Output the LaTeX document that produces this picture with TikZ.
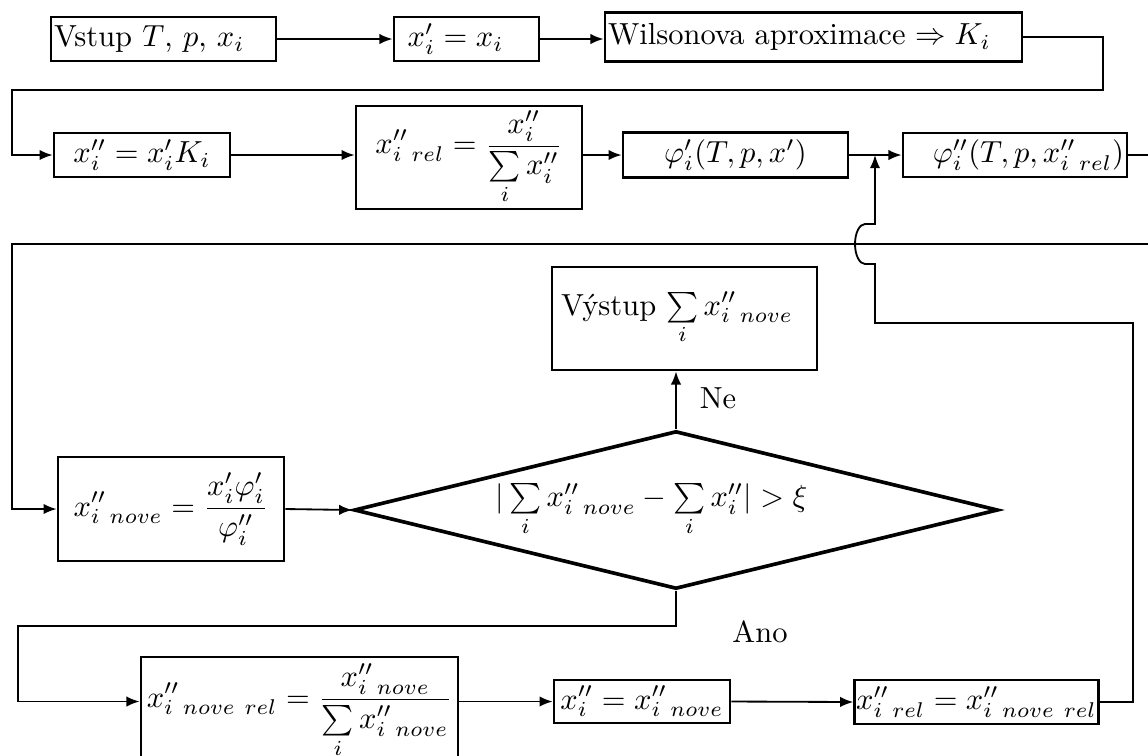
\documentclass[tikz,border=0pt]{standalone}
\usepackage{amsmath}
\usepackage{fontspec}
\usetikzlibrary{shapes.geometric,arrows.meta}
\begin{document}
\begin{tikzpicture}[x=0.328pt,y=-0.328pt,
  box/.style={draw,line width=0.9pt,inner sep=1pt},
  conn/.style={line width=0.6pt},
  arr/.style={conn,-{Latex[length=4.3pt,width=3.4pt]}},
  lbl/.style={inner sep=0pt}]
\useasboundingbox (0,0) rectangle (1148,755);
\clip (0,0) rectangle (1148,755);
% row 1
\node[box,minimum height=14.4pt,text width=71.8pt,align=left] (b1) at (163.5,39) {Vstup $T$, $p$, $x_i$};
\node[box,minimum height=14.4pt,text width=45.6pt,align=left] (b2) at (466.5,39) {\hspace*{3.5pt}$x'_i = x_i$};
\node[box,minimum height=16pt,text width=134.8pt,align=left] (b3) at (813.5,37) {Wilsonova aproximace $\Rightarrow K_i$};
% row 2
\node[box,minimum width=57.7pt,minimum height=14.4pt] (b4) at (142,155) {$x''_i = x'_iK_i$};
\node[box,minimum width=74.1pt,minimum height=33.8pt] (b5) at (469,157.5) {$\displaystyle x''_{i\ rel} = \frac{x''_i}{\sum\limits_i x''_i}$};
\node[box,minimum width=73.8pt,minimum height=14.8pt] (b6) at (735.5,155) {$\varphi'_i(T,p,x')$};
\node[box,minimum height=14.4pt,text width=71.5pt,align=right] (b7) at (1015,155) {$\varphi''_i(T,p,x''_{i\ rel})$};
\coordinate (j) at (875,155);
% row 3
\node[box,minimum height=33.8pt,text width=84.9pt,align=left] (b8) at (684.5,318.5) {\hspace*{2pt}Výstup $\sum\limits_i x''_{i\ nove}$};
\node[box,minimum width=74.1pt,minimum height=34.1pt] (b9) at (171,509) {$\displaystyle x''_{i\ nove} = \frac{x'_i\varphi'_i}{\varphi''_i}$};
\node[diamond,draw,line width=1.2pt,aspect=4,inner sep=0pt,minimum width=211.2pt,minimum height=51.8pt] (d) at (676,510) {$|\sum\limits_i x''_{i\ nove} - \sum\limits_i x''_i| > \xi$\hspace*{16pt}};
\node[lbl] (ne) at (718,398) {Ne};
\node[lbl] (ano) at (760,632) {Ano};
% row 4
\node[box,minimum width=104pt,minimum height=35.4pt] (b11) at (299.5,711) {$\displaystyle x''_{i\ nove\ rel} = \frac{x''_{i\ nove}}{\sum\limits_i x''_{i\ nove}}$};
\node[box,minimum width=57.7pt,minimum height=14.1pt] (b12) at (642,701.5) {$x''_i = x''_{i\ nove}$};
\node[box,minimum width=79.7pt,minimum height=14.4pt,inner sep=0.5pt] (b13) at (976.5,702) {$x''_{i\ rel} = x''_{i\ nove\ rel}$};
% connectors
\draw[arr] (b1.east) -- (b2.west);
\draw[arr] (b2.east) -- (b2.east -| b3.west);
\draw[arr] (b3.east) -- (1103,37) -- (1103,90) -- (12,90) |- (b4.west);
\draw[arr] (b4.east) -- (b4.east -| b5.west);
\draw[arr] (b5.east |- b6.west) -- (b6.west);
\draw[arr] (b6.east) -- (b7.west);
\draw[arr] (b7.east) -- (1170,155) -- (1170,244) -- (12,244) |- (b9.west);
\draw[arr] (b9.east) -- (d.west);
\draw[arr] (d.north) -- (d.north |- b8.south);
\draw[arr] (d.south) -- (676,626) -- (18,626) |- (b11.west |- b12.west);
\draw[arr] (b11.east |- b12.west) -- (b12.west);
\draw[arr] (b12.east) -- (b13.west);
\draw[arr] (b13.east) -- (1133,702) -- (1133,323) -- (875,323) -- (875,264) -- (865,264)
  arc[start angle=270,end angle=90,x radius=3.28pt,y radius=6.56pt] -- (875,224) -- (j);
\end{tikzpicture}
\end{document}
